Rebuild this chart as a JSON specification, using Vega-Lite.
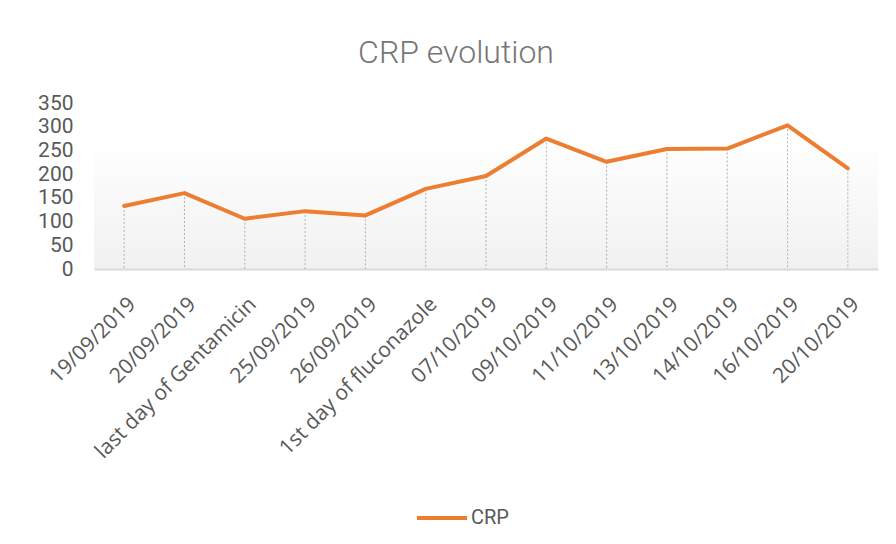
{
  "$schema": "https://vega.github.io/schema/vega-lite/v6.json",
  "autosize": "none",
  "width": 784,
  "height": 166,
  "padding": {"left": 94, "top": 103, "right": 18, "bottom": 275},
  "background": "white",
  "title": {
    "text": "CRP evolution",
    "font": "Roboto",
    "fontWeight": 300,
    "fontSize": 32,
    "color": "#767676",
    "anchor": "middle",
    "dx": -30,
    "offset": 22
  },
  "config": {
    "view": {
      "stroke": null,
      "fill": {
        "gradient": "linear",
        "x1": 0, "y1": 0, "x2": 0, "y2": 1,
        "stops": [
          {"offset": 0, "color": "#ffffff"},
          {"offset": 0.22, "color": "#ffffff"},
          {"offset": 1, "color": "#f1f1f1"}
        ]
      }
    }
  },
  "data": {
    "values": [
      {"label": "19/09/2019", "CRP": 133},
      {"label": "20/09/2019", "CRP": 160},
      {"label": "last day of Gentamicin", "CRP": 106},
      {"label": "25/09/2019", "CRP": 122},
      {"label": "26/09/2019", "CRP": 113},
      {"label": "1st day of fluconazole", "CRP": 169},
      {"label": "07/10/2019", "CRP": 196},
      {"label": "09/10/2019", "CRP": 275},
      {"label": "11/10/2019", "CRP": 226},
      {"label": "13/10/2019", "CRP": 253},
      {"label": "14/10/2019", "CRP": 254},
      {"label": "16/10/2019", "CRP": 303},
      {"label": "20/10/2019", "CRP": 212}
    ]
  },
  "encoding": {
    "x": {
      "field": "label",
      "type": "nominal",
      "sort": null,
      "scale": {"type": "point", "padding": 0.5},
      "axis": {
        "title": null,
        "labelAngle": -45,
        "labelFont": "Open Sans",
        "labelFontSize": 21,
        "labelColor": "#595959",
        "labelPadding": 24,
        "labelLimit": 0,
        "labelOverlap": false,
        "labelBound": false,
        "ticks": false,
        "domainColor": "#d9d9d9",
        "domainWidth": 2,
        "grid": false
      }
    },
    "y": {
      "field": "CRP",
      "type": "quantitative",
      "scale": {"domain": [0, 350], "nice": false},
      "axis": {
        "title": null,
        "values": [0, 50, 100, 150, 200, 250, 300, 350],
        "labelFont": "Roboto",
        "labelFontSize": 21,
        "labelColor": "#595959",
        "labelPadding": 21,
        "labelOverlap": false,
        "labelBound": false,
        "labelFlush": false,
        "ticks": false,
        "domain": false,
        "grid": false
      }
    }
  },
  "layer": [
    {
      "mark": {"type": "rule", "color": "#b0b0b0", "strokeDash": [2, 2], "strokeWidth": 1},
      "encoding": {
        "y2": {"datum": 0}
      }
    },
    {
      "mark": {"type": "line", "strokeWidth": 4, "strokeCap": "round", "strokeJoin": "round"},
      "encoding": {
        "color": {
          "datum": "CRP",
          "type": "nominal",
          "scale": {"range": ["#ED7D31"]},
          "legend": {
            "title": null,
            "orient": "none",
            "legendX": 321,
            "legendY": 388,
            "symbolType": "stroke",
            "symbolSize": 2500,
            "symbolStrokeWidth": 4,
            "labelFont": "Roboto",
            "labelFontSize": 20,
            "labelColor": "#595959",
            "labelOffset": 2
          }
        }
      }
    }
  ]
}
